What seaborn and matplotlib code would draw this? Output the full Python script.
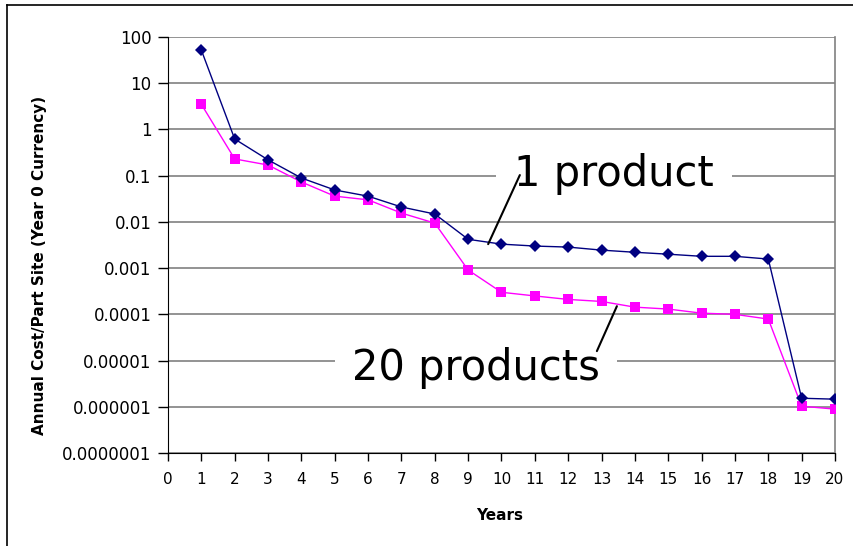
import matplotlib
matplotlib.use("Agg")
import matplotlib.pyplot as plt
from matplotlib.lines import Line2D
from matplotlib.ticker import NullLocator
import seaborn as sns
import pandas as pd

years = list(range(1, 21))
one_product = [52, 0.62, 0.22, 0.089, 0.049, 0.036, 0.021, 0.0148, 0.0042, 0.0033,
               0.0030, 0.00285, 0.00245, 0.0022, 0.0020, 0.0018, 0.0018, 0.00157,
               1.53e-6, 1.46e-6]
twenty_products = [3.5, 0.23, 0.17, 0.073, 0.036, 0.030, 0.0155, 0.0094, 0.00091, 0.00030,
                   0.00025, 0.00021, 0.00019, 0.000143, 0.00013, 0.000106, 0.0001, 7.9e-5,
                   1.03e-6, 8.9e-7]
x_ticks = list(range(0, 21))
y_ticks = [1e-7, 1e-6, 1e-5, 1e-4, 1e-3, 1e-2, 1e-1, 1, 10, 100]
y_tick_labels = ["0.0000001", "0.000001", "0.00001", "0.0001", "0.001", "0.01",
                 "0.1", "1", "10", "100"]

plt.rcParams["font.family"] = ["DejaVu Sans"]

fig = plt.figure(figsize=(8.54, 5.46), dpi=100)
ax = fig.add_axes([168 / 854, 93 / 546, 667 / 854, 416 / 546])

df1 = pd.DataFrame({"Years": years, "cost": one_product})
df2 = pd.DataFrame({"Years": years, "cost": twenty_products})
sns.lineplot(data=df1, x="Years", y="cost", ax=ax, color="#000080", marker="D",
             markersize=6, markeredgewidth=0, linewidth=1, zorder=5)
sns.lineplot(data=df2, x="Years", y="cost", ax=ax, color="#FF00FF", marker="s",
             markersize=7, markeredgewidth=0, linewidth=1, zorder=4)

ax.set_yscale("log")
ax.set_ylim(1e-7, 100)
ax.set_xlim(0, 20)
ax.set_yticks(y_ticks)
ax.set_yticklabels(y_tick_labels)
ax.yaxis.set_minor_locator(NullLocator())
ax.set_xticks(x_ticks)
ax.set_xticklabels([str(t) for t in x_ticks])
ax.tick_params(axis="y", labelsize=12, length=7, width=1, pad=5, color="black")
ax.tick_params(axis="x", labelsize=11, length=6, width=1, pad=8, color="black")

ax.set_axisbelow(True)
ax.yaxis.grid(True, color="#808080", linewidth=1.2)
ax.xaxis.grid(False)
ax.spines["top"].set_visible(False)
ax.spines["right"].set_color("#808080")
ax.spines["right"].set_linewidth(1.2)
ax.spines["left"].set_color("black")
ax.spines["bottom"].set_color("black")
ax.set_xlabel("")
ax.set_ylabel("")

# annotations
ax.text(13.37, 0.0596, "1 product", fontsize=30, ha="center", va="baseline",
        bbox=dict(facecolor="white", edgecolor="none", pad=13), zorder=3)
ax.text(9.235, 3.77e-6, "20 products", fontsize=30, ha="center", va="baseline",
        bbox=dict(facecolor="white", edgecolor="none", pad=12), zorder=3)
ax.annotate("", xy=(9.60, 0.0033), xytext=(10.55, 0.103),
            arrowprops=dict(arrowstyle="-", color="black", lw=1.5,
                            shrinkA=0, shrinkB=0), zorder=6)
ax.annotate("", xy=(13.46, 1.5e-4), xytext=(12.86, 1.6e-5),
            arrowprops=dict(arrowstyle="-", color="black", lw=1.5,
                            shrinkA=0, shrinkB=0), zorder=6)

fig.text(40 / 854, (546 - 265) / 546, "Annual Cost/Part Site (Year 0 Currency)",
         rotation=90, fontsize=11, fontweight="bold", ha="center", va="center")
fig.text(500 / 854, (546 - 515) / 546, "Years", fontsize=11, fontweight="bold",
         ha="center", va="center")

# outer chart border
fig.add_artist(Line2D([7 / 854, 1], [1 - 5 / 546, 1 - 5 / 546], color="black", lw=1.2))
fig.add_artist(Line2D([7 / 854, 7 / 854], [0, 1 - 5 / 546], color="black", lw=1.2))

fig.savefig("out.png", dpi=100)
